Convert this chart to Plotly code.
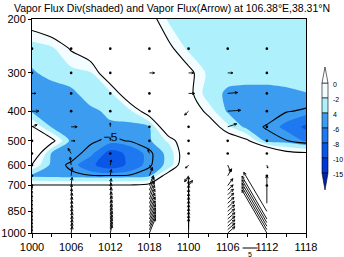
import math
import plotly.graph_objects as go

# ---------------- data ----------------
time_labels = ["1000", "1006", "1012", "1018", "1100", "1106", "1112", "1118"]
time_idx = [0, 1, 2, 3, 4, 5, 6, 7]

# divergence field grid (3-hourly columns, pressure rows)
grid_x = [0, 0.5, 1, 1.5, 2, 2.5, 3, 3.5, 4, 4.5, 5, 5.5, 6, 6.5, 7]
grid_p = [200, 250, 300, 350, 400, 450, 500, 550, 600, 650, 700, 1000]
div_200 = [2.0, 4.0, 1.5, 1.5, 1.5, 1.5, 1.5, -2.5, -3.0, -3.0, -3.0, -3.0, -3.0, -3.0, -3.0]
div_250 = [-3.2, -2.5, 0.3, 2.5, 2.0, 2.0, 1.5, 0.8, -2.5, -3.0, -3.0, -3.0, -3.0, -3.0, -3.0]
div_300 = [-4.2, -3.5, -2.8, -2.2, 3.0, 3.0, 3.0, 2.0, 1.0, -2.5, -3.3, -3.3, -3.3, -3.3, -3.2]
div_350 = [-4.8, -4.8, -4.5, -3.0, -2.5, 3.0, 3.0, 2.0, 1.0, -3.2, -4.3, -4.5, -4.5, -4.3, -4.05]
div_400 = [-4.3, -4.8, -4.9, -4.4, -3.6, -2.5, 2.0, 3.0, 2.5, -0.8, -4.3, -4.5, -4.7, -4.9, -5.2]
div_450 = [0.2, -4.2, -4.8, -4.8, -4.3, -4.6, -4.05, 3.5, 3.0, 2.0, -1.5, -4.8, -5.05, -6.5, -8.5]
div_500 = [3.0, 1.0, -4.6, -4.8, -5.3, -4.9, -4.3, -1.5, 3.0, 3.0, 2.0, 0.5, -4.8, -4.9, -6.2]
div_550 = [3.0, -4.2, -4.5, -5.5, -9.0, -7.5, -5.3, -3.5, 3.0, 4.0, 4.0, 4.0, 5.0, 1.0, 0.5]
div_600 = [-0.2, -4.5, -5.2, -7.5, -9.5, -7.5, -5.2, -3.5, 4.0, 3.0, 3.0, 3.0, 3.0, 3.0, 3.0]
div_650 = [-4.5, -4.6, -4.8, -4.9, -4.9, -4.8, -4.3, 2.0, 3.0, 3.0, 3.0, 3.0, 3.0, 3.0, 3.0]
div_700 = [0.3, 0.3, 0.3, 0.3, 0.3, 0.3, 1.0, 3.0, 3.0, 3.0, 3.0, 3.0, 3.0, 3.0, 3.0]
div_1000 = [2.0, 2.0, 2.0, 2.0, 2.0, 2.0, 2.0, 2.0, 2.0, 2.0, 2.0, 2.0, 2.0, 2.0, 2.0]
div_rows = [div_200, div_250, div_300, div_350, div_400, div_450, div_500,
            div_550, div_600, div_650, div_700, div_1000]

# vapor flux vectors (per time column 1000..1112)
levels_upper = [250, 300, 350, 400, 450, 500, 550, 600, 650, 700]
U_upper = [
    [0, 0, 1.3, 2.3, 1.7, 0, 0, 0, 0, 0],
    [0, 0, 0, 0, 2.0, 1.3, -1.0, -0.3, 0.3, 0.3],
    [0, 0, 0, 0, 0, 0, 0, 0.3, 0.3, 0.3],
    [0, 1.7, 0, 0, 0, 0, -0.5, 1.0, 1.0, 1.3],
    [0, 1.7, 2.0, -1.3, 0, 0, 0, -1.0, -1.3, 1.3],
    [0, 1.7, 3.3, 4.3, 3.0, 0, 0, 1.0, 1.3, 1.7],
    [0, 0, 0, 0, 0, 0, 0, 0.3, 0, 0],
]
V_upper = [
    [0, 0, 0, 0, 0.7, 0, 0, 0, 0, 0],
    [0, 0, 0, 0, 0, 0, 1.7, 2.7, 2.7, 2.7],
    [0, 0, 0, 0, 1.3, 1.0, 0, 1.7, 2.0, 2.3],
    [0, 0, 0, 0, 0, 0, 1.3, -1.7, 2.7, 3.3],
    [0, 0, 0, -1.3, 0, 0, 0, -1.0, -2.0, 1.7],
    [0, 0, 0.3, 0.3, 1.0, 0, 0, -2.3, 2.3, 2.3],
    [0, 0, 0, 0, 0, 0, 0, -1.0, 0, 0],
]
levels_lower = [725, 750, 775, 800, 825, 850, 875, 900, 925, 950, 975, 1000]
U_lower = [
    [0, 0, 0, 0, 0, 0, 0, 0, 0, 0, 0, 0],
    [0.2, 0.2, 0.3, 0.3, 0.3, 0.3, 0.3, 0.4, 0.4, 0.4, 0.4, 0.4],
    [0.3, 0.4, 0.4, 0.5, 0.5, 0.5, 0.5, 0.6, 0.6, 0.6, 0.6, 0.6],
    [1.5, 1.6, 1.7, 1.8, 1.8, 1.9, 1.9, 2.0, 2.0, 2.0, 2.0, 2.0],
    [0, 0, 0, 0, 0, 0, 0, 0, 0, 0, 0, 0],
    [1.8, 1.9, 2.0, 2.1, 2.2, 2.3, 2.3, 2.4, 2.4, 2.4, 2.4, 2.4],
    [None, None, None, 0, None, -7.7, None, -8.3, -8.3, -8.3, -8.3, -8.3],
]
V_lower = [
    [1.2, 1.2, 1.2, 1.2, 1.2, 1.2, 1.2, 1.2, 1.2, 1.2, 1.2, 1.2],
    [1.9, 2.0, 2.0, 2.1, 2.1, 2.1, 2.2, 2.2, 2.2, 2.2, 2.2, 2.2],
    [2.3, 2.4, 2.4, 2.5, 2.5, 2.5, 2.6, 2.6, 2.6, 2.6, 2.6, 2.6],
    [4.3, 4.4, 4.6, 4.7, 4.7, 4.8, 4.8, 4.9, 4.9, 4.9, 4.9, 4.9],
    [4.5, 4.6, 4.7, 4.7, 4.7, 4.8, 4.8, 4.8, 4.8, 4.8, 4.8, 4.8],
    [1.8, 1.9, 2.0, 2.0, 2.0, 2.1, 2.1, 2.1, 2.1, 2.1, 2.1, 2.1],
    [None, None, None, 9.3, None, 13.0, None, 14.3, 14.3, 14.3, 14.3, 14.3],
]
ref_vector = 5

cbar_labels = ["0", "-2", "4", "-6", "-8", "-10", "-15"]
band_colors = {
    "gt0": "#ffffff",
    "0_2": "#f3fdff",
    "2_4": "#aef0fb",
    "4_6": "#3b9cf0",
    "6_8": "#1e78f0",
    "8_10": "#0a56e6",
    "10_15": "#0038d8",
    "lt15": "#0022b0",
}

# ---------------- geometry helpers (quiver) ----------------
W, H = 344, 257
ML, MR, MT, MB = 32, 38, 19, 24
PW, PH = W - ML - MR, H - MT - MB
LTOP, LBOT = math.log10(200), math.log10(1000)
PX_X = PW / 7.0
PX_DEC = PH / (LBOT - LTOP)
SCALE = 3.0  # px per flux unit


def to_scr(x, p):
    return x * PX_X, (math.log10(p) - LTOP) * PX_DEC


def from_scr(sx, sy):
    return sx / PX_X, 10 ** (sy / PX_DEC + LTOP)


ax_x, ax_y, dot_x, dot_y = [], [], [], []


def add_arrow(x, p, u, v):
    if u is None or v is None:
        return
    sx, sy = to_scr(x, p)
    dx, dy = u * SCALE, -v * SCALE
    L = math.hypot(dx, dy)
    if L < 1.2:
        dot_x.append(x)
        dot_y.append(p)
        return
    ex, ey = sx + dx, sy + dy
    for (a, b) in [(sx, sy), (ex, ey)]:
        xx, pp = from_scr(a, b)
        ax_x.append(xx)
        ax_y.append(pp)
    ax_x.append(None)
    ax_y.append(None)
    h = min(3.0, 0.45 * L)
    ux, uy = dx / L, dy / L
    for ang in (0.45, -0.45):
        ca, sa = math.cos(ang), math.sin(ang)
        rx = ux * ca - uy * sa
        ry = ux * sa + uy * ca
        hx, hy = ex - h * rx, ey - h * ry
        for (a, b) in [(ex, ey), (hx, hy)]:
            xx, pp = from_scr(a, b)
            ax_x.append(xx)
            ax_y.append(pp)
        ax_x.append(None)
        ax_y.append(None)


for ci in range(7):
    for li, p in enumerate(levels_upper):
        add_arrow(time_idx[ci], p, U_upper[ci][li], V_upper[ci][li])
    for li, p in enumerate(levels_lower):
        add_arrow(time_idx[ci], p, U_lower[ci][li], V_lower[ci][li])

# ---------------- colorscale for uneven bands ----------------
def pos(v):
    return (v + 15.5) / 16.0

cs = [
    [0.0, band_colors["lt15"]], [pos(-15), band_colors["lt15"]],
    [pos(-15), band_colors["10_15"]], [pos(-10), band_colors["10_15"]],
    [pos(-10), band_colors["8_10"]], [pos(-8), band_colors["8_10"]],
    [pos(-8), band_colors["6_8"]], [pos(-6), band_colors["6_8"]],
    [pos(-6), band_colors["4_6"]], [pos(-4), band_colors["4_6"]],
    [pos(-4), band_colors["2_4"]], [pos(-2), band_colors["2_4"]],
    [pos(-2), band_colors["0_2"]], [pos(0), band_colors["0_2"]],
    [pos(0), band_colors["gt0"]], [1.0, band_colors["gt0"]],
]

fig = go.Figure()
fig.add_trace(go.Contour(
    x=grid_x, y=grid_p, z=div_rows,
    autocontour=False,
    contours=dict(start=-15, end=0, size=1, coloring="fill", showlines=False),
    colorscale=cs, showscale=False,
    line=dict(width=0, smoothing=0.8),
    hoverinfo="skip",
))
fig.add_trace(go.Contour(
    x=grid_x, y=grid_p, z=div_rows,
    autocontour=False,
    contours=dict(start=0, end=0, size=1, coloring="none"),
    line=dict(color="black", width=1.1, smoothing=0.8),
    showscale=False, hoverinfo="skip",
))
# -5 contour: labelled on the left (1000-1100), unlabelled on the right
split = 9
fig.add_trace(go.Contour(
    x=grid_x[:split], y=grid_p, z=[r[:split] for r in div_rows],
    autocontour=False,
    contours=dict(start=-5, end=-5, size=1, coloring="none", showlabels=True,
                  labelfont=dict(size=12, color="black", family="Liberation Sans")),
    line=dict(color="black", width=1.1, smoothing=0.8),
    showscale=False, hoverinfo="skip",
))
fig.add_trace(go.Contour(
    x=grid_x[split - 1:], y=grid_p, z=[r[split - 1:] for r in div_rows],
    autocontour=False,
    contours=dict(start=-5, end=-5, size=1, coloring="none", showlabels=False),
    line=dict(color="black", width=1.1, smoothing=0.8),
    showscale=False, hoverinfo="skip",
))
fig.add_trace(go.Scatter(x=ax_x, y=ax_y, mode="lines",
                         line=dict(color="black", width=0.9), hoverinfo="skip",
                         showlegend=False))
fig.add_trace(go.Scatter(x=dot_x, y=dot_y, mode="markers",
                         marker=dict(color="black", size=2.6), hoverinfo="skip",
                         showlegend=False))

# ---------------- custom colorbar ----------------
def px2paper(px, py):
    return (px - ML) / PW, (MT + PH - py) / PH

shapes = []
annotations = []
cb_x0, cb_x1 = 322, 328
cb_bounds = [83, 98, 113, 128, 143, 158, 173]
cb_fill = [band_colors["0_2"], band_colors["2_4"], band_colors["4_6"],
           band_colors["6_8"], band_colors["8_10"], band_colors["10_15"]]
for i, col in enumerate(cb_fill):
    xa, ya = px2paper(cb_x0, cb_bounds[i])
    xb, yb = px2paper(cb_x1, cb_bounds[i + 1])
    shapes.append(dict(type="rect", xref="paper", yref="paper", x0=xa, x1=xb, y0=yb, y1=ya,
                       fillcolor=col, line=dict(color="black", width=0.6)))
xa, ya = px2paper(cb_x0, cb_bounds[0])
xb, _ = px2paper(cb_x1, cb_bounds[0])
xm, yt = px2paper((cb_x0 + cb_x1) / 2, 67)
shapes.append(dict(type="path", xref="paper", yref="paper",
                   path=f"M {xa} {ya} L {xb} {ya} L {xm} {yt} Z",
                   fillcolor=band_colors["gt0"], line=dict(color="black", width=0.6)))
xa, ya = px2paper(cb_x0, cb_bounds[-1])
xb, _ = px2paper(cb_x1, cb_bounds[-1])
xm, yt = px2paper((cb_x0 + cb_x1) / 2, 190)
shapes.append(dict(type="path", xref="paper", yref="paper",
                   path=f"M {xa} {ya} L {xb} {ya} L {xm} {yt} Z",
                   fillcolor=band_colors["lt15"], line=dict(color="black", width=0.6)))
for lab, yb in zip(cbar_labels, cb_bounds):
    lx, ly = px2paper(cb_x1 + 3, yb + 1)
    annotations.append(dict(x=lx, y=ly, xref="paper", yref="paper", text=lab,
                            showarrow=False, xanchor="left", yanchor="middle",
                            font=dict(size=7, color="black", family="Liberation Sans")))

# reference vector
rx0 = 5.38
_, ry = px2paper(0, 248)
shapes.append(dict(type="line", xref="x", yref="paper", x0=rx0,
                   x1=rx0 + ref_vector * SCALE / PX_X, y0=ry, y1=ry,
                   line=dict(color="black", width=1)))
_, ry2 = px2paper(0, 254)
annotations.append(dict(x=rx0 + ref_vector * SCALE / PX_X / 2, y=ry2, xref="x", yref="paper",
                        text=str(ref_vector), showarrow=False, yanchor="middle",
                        font=dict(size=7, color="black", family="Liberation Sans")))

fig.update_layout(
    width=W, height=H, autosize=False,
    margin=dict(l=ML, r=MR, t=MT, b=MB),
    paper_bgcolor="white", plot_bgcolor="white",
    showlegend=False,
    title=dict(text="Vapor Flux Div(shaded) and Vapor Flux(Arrow) at 106.38°E,38.31°N",
               x=0.5, xanchor="center", y=1 - 8 / H, yanchor="middle",
               font=dict(size=10.5, color="black", family="Liberation Sans")),
    shapes=shapes, annotations=annotations,
    xaxis=dict(range=[0, 7], tickvals=time_idx, ticktext=time_labels,
               ticks="outside", ticklen=4, tickcolor="black", showgrid=False,
               zeroline=False, showline=True, linecolor="black", linewidth=1, mirror=True,
               automargin=False,
               minor=dict(dtick=0.5, ticks="outside", ticklen=3, tickcolor="black"),
               tickfont=dict(size=11, color="black", family="Liberation Sans")),
    yaxis=dict(type="log", range=[LBOT, LTOP],
               tickvals=[200, 300, 400, 500, 600, 700, 850, 1000],
               ticktext=["200", "300", "400", "500", "600", "700", "850", "1000"],
               ticks="outside", ticklen=3, tickcolor="black", showgrid=False,
               zeroline=False, showline=True, linecolor="black", linewidth=1, mirror=True,
               automargin=False,
               tickfont=dict(size=11, color="black", family="Liberation Sans")),
)

fig.write_html("out.html", config={"displayModeBar": False, "staticPlot": True},
               post_script="document.body.style.margin='0';document.body.style.overflow='hidden';")
